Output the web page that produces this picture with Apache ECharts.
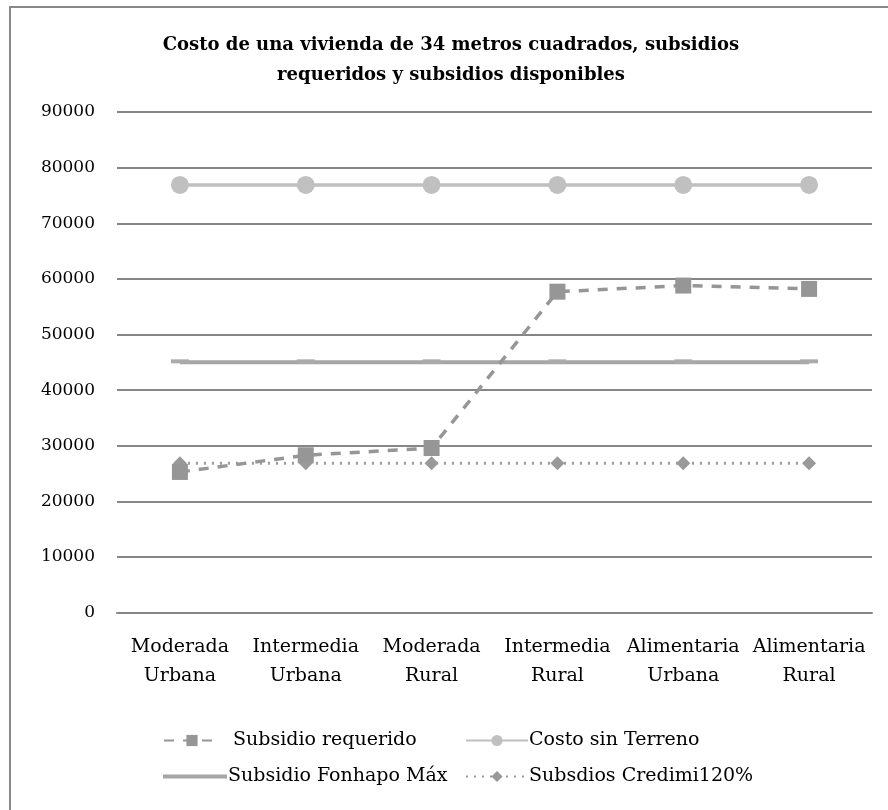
<!DOCTYPE html>
<html>
<head>
<meta charset="utf-8">
<script src="https://cdn.jsdelivr.net/npm/echarts@6/dist/echarts.min.js"></script>
<style>
  html, body { margin: 0; padding: 0; background: #ffffff; }
  #chart { width: 888px; height: 810px; }
</style>
</head>
<body>
<div id="chart"></div>
<script>
// Categorías de pobreza por ámbito
const categorias = [
  'Moderada\nUrbana', 'Intermedia\nUrbana', 'Moderada\nRural',
  'Intermedia\nRural', 'Alimentaria\nUrbana', 'Alimentaria\nRural'
];
// Series (pesos)
const subsidioRequerido = [25300, 28300, 29600, 57700, 58800, 58200];
const costoSinTerreno = [76900, 76900, 76900, 76900, 76900, 76900];
const subsidioFonhapoMax = [45000, 45000, 45000, 45000, 45000, 45000];
const subsidiosCredimi = [26850, 26850, 26850, 26850, 26850, 26850];
// Eje vertical
const yMin = 0, yMax = 90000, yStep = 10000;

const serif = 'DejaVu Serif';
const chart = echarts.init(document.getElementById('chart'));

function legendAt(item, left, top, extra) {
  return Object.assign({
    data: [item], left: left, top: top, orient: 'horizontal',
    itemWidth: 62, itemHeight: 14, itemGap: 0, selectedMode: false,
    textStyle: { fontFamily: serif, fontSize: 19, color: '#000', padding: [0, 0, 0, -4] }
  }, extra || {});
}

chart.setOption({
  animation: false,
  backgroundColor: '#ffffff',
  title: {
    text: 'Costo de una vivienda de 34 metros cuadrados, subsidios\nrequeridos y subsidios disponibles',
    left: 446, top: 25, textAlign: 'center',
    textStyle: { fontFamily: serif, fontSize: 18, fontWeight: 'bold', color: '#000', lineHeight: 30 }
  },
  graphic: [{
    type: 'rect', silent: true, z: -1,
    shape: { x: 10, y: 7, width: 900, height: 900 },
    style: { fill: 'none', stroke: '#888', lineWidth: 2 }
  }],
  grid: { left: 117, right: 16, top: 112, bottom: 197.3, containLabel: false },
  legend: [
    legendAt({ name: 'Subsidio requerido' }, 158, 726, {
      itemWidth: 56,
      textStyle: { fontFamily: serif, fontSize: 19, color: '#000', padding: [0, 0, 0, 8] }
    }),
    legendAt({ name: 'Costo sin Terreno' }, 460, 726),
    legendAt({ name: 'Subsidio Fonhapo Máx', icon: 'rect', itemStyle: { color: '#a6a6a6' } }, 158, 762, {
      itemWidth: 64, itemHeight: 4
    }),
    legendAt({ name: 'Subsdios Credimi120%' }, 460, 762)
  ],
  xAxis: {
    type: 'category', data: categorias, boundaryGap: true,
    axisLine: { show: true, lineStyle: { color: '#868686', width: 2 } },
    axisTick: { show: false },
    axisLabel: { fontFamily: serif, fontSize: 19, color: '#000', lineHeight: 29, margin: 20, interval: 0 }
  },
  yAxis: {
    type: 'value', min: yMin, max: yMax, interval: yStep,
    axisLine: { show: false }, axisTick: { show: false },
    splitLine: { lineStyle: { color: '#868686', width: 2 } },
    axisLabel: {
      fontFamily: serif, fontSize: 17, color: '#000', margin: 22,
      formatter: function (v) { return String(v); }
    }
  },
  series: [
    {
      name: 'Subsidio requerido', type: 'line', data: subsidioRequerido, z: 5,
      symbol: 'rect', symbolSize: 16, color: '#969696',
      lineStyle: { color: '#969696', width: 3.5, type: [10, 9] },
      itemStyle: { color: '#969696' }
    },
    {
      name: 'Costo sin Terreno', type: 'line', data: costoSinTerreno,
      symbol: 'circle', symbolSize: 18, color: '#c0c0c0',
      lineStyle: { color: '#c0c0c0', width: 3.5 },
      itemStyle: { color: '#c0c0c0' }
    },
    {
      name: 'Subsidio Fonhapo Máx', type: 'line', data: subsidioFonhapoMax,
      symbol: 'rect', symbolSize: [18, 4], symbolOffset: [0, -1], color: '#a6a6a6',
      lineStyle: { color: '#a6a6a6', width: 4 },
      itemStyle: { color: '#ababab' }
    },
    {
      name: 'Subsdios Credimi120%', type: 'line', data: subsidiosCredimi, z: 4,
      symbol: 'diamond', symbolSize: 14, color: '#999999',
      lineStyle: { color: '#9a9a9a', width: 3, type: [2, 6] },
      itemStyle: { color: '#999999' }
    }
  ]
});
</script>
</body>
</html>
